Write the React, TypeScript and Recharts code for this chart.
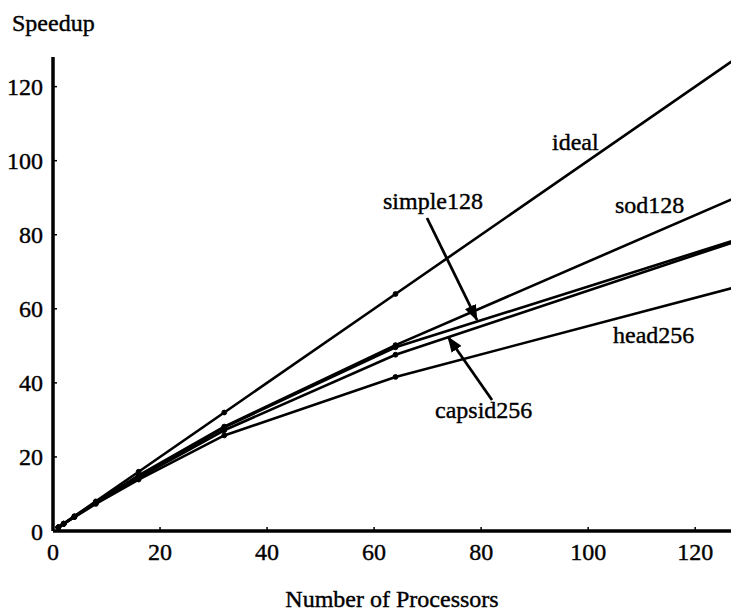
import React from 'react';
import { LineChart, Line, XAxis, YAxis } from 'recharts';

const FONT = '"Liberation Serif", "Times New Roman", serif';

const processors = [1, 2, 4, 8, 16, 32, 64, 128];
const ideal = [1, 2, 4, 8, 16, 32, 64, 128];
const sod128 = [1, 2, 3.9, 7.7, 15.0, 28.2, 50.2, 90.3];
const simple128 = [1, 1.95, 3.85, 7.6, 14.7, 28.0, 49.6, 78.8];
const capsid256 = [1, 1.95, 3.8, 7.5, 14.4, 27.2, 47.6, 78.4];
const head256 = [1, 1.9, 3.75, 7.3, 13.9, 25.8, 41.6, 66];

const xTicks = [0, 20, 40, 60, 80, 100, 120];
const yTicks = [0, 20, 40, 60, 80, 100, 120];

const data = processors.map((p, i) => ({
  p,
  ideal: ideal[i],
  sod128: sod128[i],
  simple128: simple128[i],
  capsid256: capsid256[i],
  head256: head256[i],
}));

const seriesKeys = ['ideal', 'sod128', 'simple128', 'capsid256', 'head256'];

const tickStyle = { fill: '#000', fontSize: 24, fontFamily: FONT, stroke: '#000', strokeWidth: 0.4 };

export default function App() {
  return (
    <div
      style={{
        position: 'absolute',
        left: 0,
        top: 0,
        width: 731,
        height: 614,
        overflow: 'hidden',
        background: '#fff',
      }}
    >
      <LineChart
        width={760}
        height={614}
        data={data}
        margin={{ top: 57, right: 22, bottom: 0, left: 0 }}
      >
        <XAxis
          xAxisId="b"
          dataKey="p"
          type="number"
          domain={[0, 128]}
          ticks={xTicks}
          allowDataOverflow
          height={83}
          axisLine={{ stroke: '#000', strokeWidth: 3.5 }}
          tickLine={{ stroke: '#000', strokeWidth: 1.5 }}
          tickSize={-4}
          tickMargin={16}
          tick={tickStyle}
          interval={0}
        />
        <XAxis
          xAxisId="t"
          dataKey="p"
          type="number"
          orientation="top"
          domain={[0, 128]}
          ticks={xTicks}
          allowDataOverflow
          height={0}
          axisLine={{ stroke: '#000', strokeWidth: 3.5 }}
          tickLine={{ stroke: '#000', strokeWidth: 1.5 }}
          tickSize={-4}
          tick={false}
        />
        <YAxis
          yAxisId="l"
          type="number"
          domain={[0, 128]}
          ticks={yTicks}
          allowDataOverflow
          width={53}
          axisLine={{ stroke: '#000', strokeWidth: 3.5 }}
          tickLine={{ stroke: '#000', strokeWidth: 1.5 }}
          tickSize={-4}
          tickMargin={14}
          tick={tickStyle}
          interval={0}
        />
        <YAxis
          yAxisId="r"
          type="number"
          orientation="right"
          domain={[0, 128]}
          ticks={yTicks}
          allowDataOverflow
          width={0}
          axisLine={{ stroke: '#000', strokeWidth: 3.5 }}
          tickLine={false}
          tick={false}
        />
        {seriesKeys.map((k) => (
          <Line
            key={k}
            xAxisId="b"
            yAxisId="l"
            dataKey={k}
            type="linear"
            stroke="#000"
            strokeWidth={2.6}
            dot={{ r: 2.4, fill: '#000', stroke: '#000', strokeWidth: 1 }}
            isAnimationActive={false}
          />
        ))}
      </LineChart>
      <svg
        width={731}
        height={614}
        style={{ position: 'absolute', left: 0, top: 0, pointerEvents: 'none' }}
      >
        <defs>
          <marker
            id="ah"
            markerUnits="userSpaceOnUse"
            markerWidth={16}
            markerHeight={12}
            refX={15}
            refY={6}
            orient="auto"
          >
            <path d="M0,0 L16,6 L0,12 Z" fill="#000" />
          </marker>
        </defs>
        <g fontFamily={FONT} fontSize={24} fill="#000" stroke="#000" strokeWidth={0.4}>
          <text x={12} y={31}>Speedup</text>
          <text x={392} y={607} textAnchor="middle">Number of Processors</text>
          <text x={552} y={150}>ideal</text>
          <text x={615} y={213}>sod128</text>
          <text x={383} y={209}>simple128</text>
          <text x={613} y={343}>head256</text>
          <text x={435} y={418}>capsid256</text>
        </g>
        <line x1={427} y1={218} x2={477} y2={320} stroke="#000" strokeWidth={2.8} markerEnd="url(#ah)" />
        <line x1={492} y1={400} x2={448} y2={337} stroke="#000" strokeWidth={2.8} markerEnd="url(#ah)" />
      </svg>
    </div>
  );
}
